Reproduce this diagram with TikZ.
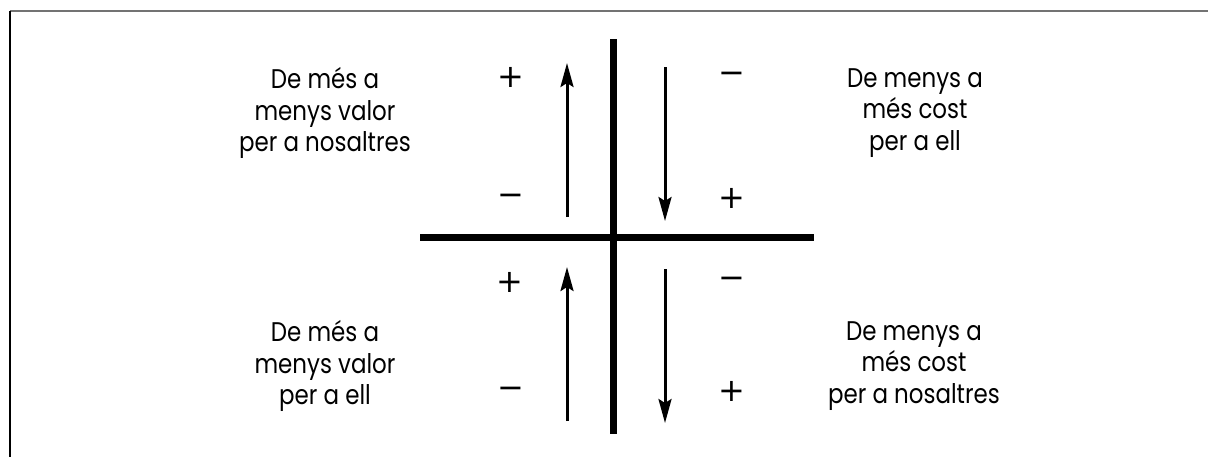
\documentclass[tikz,border=0pt]{standalone}
\usepackage{fontspec}
\setmainfont{Poppins}[FakeStretch=0.85]
\newfontfamily\signfont{DejaVu Sans}
\usepackage{tikz}
\usetikzlibrary{arrows.meta,positioning}
\tikzset{
  txt/.style  ={font=\fontsize{13.5}{15.75}\selectfont,align=center,inner sep=0pt},
  sgn/.style  ={font=\signfont\fontsize{16}{18}\selectfont,inner sep=0pt},
  axis/.style ={line width=3.5pt},
  ar/.style   ={line width=1.5pt,-{Stealth[length=12pt,width=6.5pt,inset=2pt]}},
  frame/.style={line width=1pt},
}

\begin{document}
\begin{tikzpicture}[x=0.5pt,y=-0.5pt]
  \useasboundingbox (0,0) rectangle (1208,457);
  % frame
  \coordinate (fl) at (10,457);
  \coordinate (fc) at (10,11);
  \coordinate (fr) at (1208,11);
  \draw[frame,black!55] (fc) -- (fr);
  \draw[frame] (fc) -- (fl);
  % axes
  \coordinate (vt) at (613.5,39);
  \coordinate (vb) at (613.5,434);
  \coordinate (hl) at (420,237);
  \coordinate (hr) at (814,237);
  \draw[axis] (vt) -- (vb);
  \draw[axis] (hl) -- (hr);
  % arrows
  \coordinate (a1s) at (567,217);  \coordinate (a1e) at (567,63);
  \coordinate (a2s) at (665,67);   \coordinate (a2e) at (665,221);
  \coordinate (a3s) at (567,421);  \coordinate (a3e) at (567,267);
  \coordinate (a4s) at (665,269);  \coordinate (a4e) at (665,423);
  \draw[ar] (a1s) -- (a1e);
  \draw[ar] (a2s) -- (a2e);
  \draw[ar] (a3s) -- (a3e);
  \draw[ar] (a4s) -- (a4e);
  % signs
  \node[sgn] (s1) at (511,77)  {+};
  \node[sgn] (s2) at (511,200) {−};
  \node[sgn] (s3) at (732,78)  {−};
  \node[sgn] (s4) at (732,198) {+};
  \node[sgn] (s5) at (510,282) {+};
  \node[sgn] (s6) at (511,393) {−};
  \node[sgn] (s7) at (732,283) {−};
  \node[sgn] (s8) at (732,391) {+};
  % labels
  \node[txt] (tl) at (325,113) {De més a\\menys valor\\per a nosaltres};
  \node[txt] (tr) at (915,113) {De menys a\\més cost\\per a ell};
  \node[txt] (bl) at (325,366) {De més a\\menys valor\\per a ell};
  \node[txt] (br) at (914,366) {De menys a\\més cost\\per a nosaltres};
\end{tikzpicture}
\end{document}
